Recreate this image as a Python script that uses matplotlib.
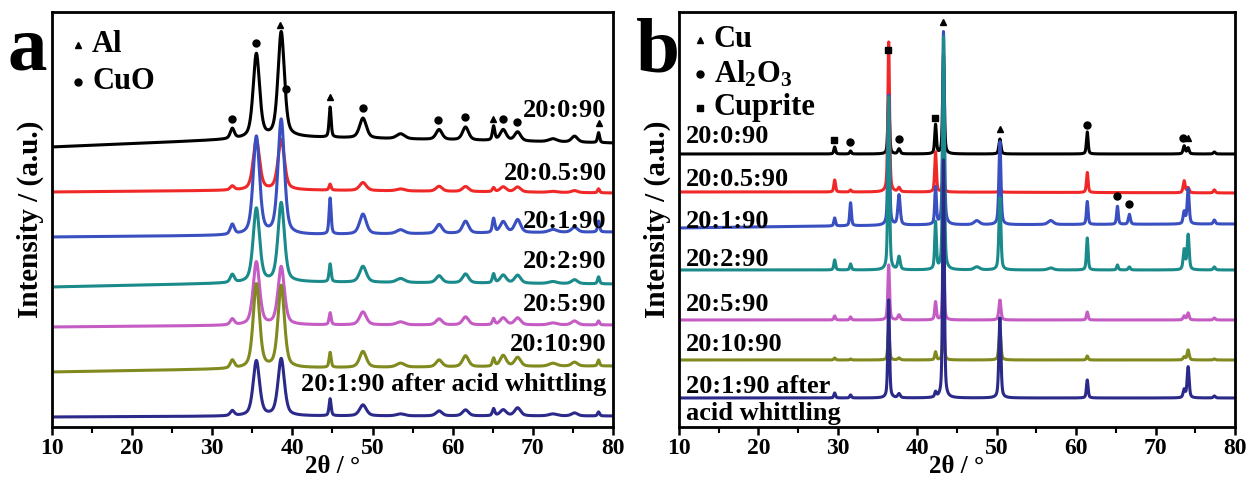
import numpy as np
import matplotlib
matplotlib.use('Agg')
import matplotlib.pyplot as plt

plt.rcParams['font.family'] = ['Liberation Serif', 'DejaVu Serif']
plt.rcParams['font.weight'] = 'bold'
plt.rcParams['mathtext.fontset'] = 'custom'
plt.rcParams['mathtext.rm'] = 'Liberation Serif:bold'
plt.rcParams['mathtext.default'] = 'rm'

# ---------------- panel a data ----------------
a_names = ['20:0:90', '20:0.5:90', '20:1:90', '20:2:90', '20:5:90', '20:10:90',
           '20:1:90 after acid whittling']
a_colors = ['#000000', '#f02828', '#3a4fc0', '#1a8a8a', '#c45cc4', '#808a1e', '#2b2a8a']
a_pos = [32.5, 35.5, 38.6, 44.7, 48.8, 53.5, 58.3, 61.6, 65.1, 66.3, 68.1, 72.5, 75.2, 78.2]
a_wid = [0.6, 0.95, 0.95, 0.3, 1.0, 1.2, 0.9, 0.9, 0.35, 0.9, 0.9, 1.2, 0.9, 0.3]
# baseline levels at 2θ = 10, 40, 80
a_base_x = [10, 40, 80]
a_base = [(280, 290, 284), (235, 237, 234), (190, 192, 195), (140, 145, 143),
          (100, 102, 102), (55, 59, 61), (10, 11, 11)]
a_hgt = [
    [10, 84, 105, 30, 20, 5, 10, 13, 14, 11, 9, 3, 6, 10],
    [4, 50, 50, 6, 8, 2, 5, 5, 4, 5, 5, 1, 2, 4],
    [10, 98, 115, 36, 20, 4, 9, 12, 14, 11, 13, 3, 5, 11],
    [8, 74, 79, 18, 16, 4, 7, 9, 9, 8, 8, 2, 4, 7],
    [6, 63, 58, 12, 13, 3, 6, 8, 6, 7, 7, 2, 4, 4],
    [8, 84, 82, 15, 16, 4, 7, 11, 8, 11, 9, 3, 4, 6],
    [5, 55, 57, 17, 11, 2, 5, 6, 7, 6, 8, 2, 3, 4],
]
a_label_y = [316, 253, 205, 165, 122, 82, 42]
# phase markers: (symbol, 2theta, reference series)
a_marks = [('o', 32.4, 0), ('o', 35.5, 0), ('^', 38.5, 0), ('o', 39.2, 0),
           ('^', 44.7, 0), ('o', 48.8, 0), ('o', 58.2, 0), ('o', 61.5, 0),
           ('^', 65.0, 0), ('o', 66.3, 0), ('o', 68.0, 0), ('^', 78.2, 0)]
a_legend = [('^', 'Al'), ('o', 'CuO')]

# ---------------- panel b data ----------------
b_names = ['20:0:90', '20:0.5:90', '20:1:90', '20:2:90', '20:5:90', '20:10:90',
           '20:1:90 after\nacid whittling']
b_colors = a_colors
b_pos = [29.6, 31.6, 36.4, 37.7, 42.3, 43.3, 47.5, 50.4, 56.8, 61.4, 65.2, 66.7, 73.6, 74.1, 77.4]
b_wid = [0.25, 0.25, 0.25, 0.35, 0.25, 0.25, 0.8, 0.3, 0.8, 0.25, 0.25, 0.3, 0.3, 0.3, 0.3]
b_base_x = [10, 40, 80]
b_base = [(273, 273, 273), (235, 235, 234), (199, 202, 203), (157, 157, 157),
          (107, 107, 107), (67, 67, 67), (29, 29, 29)]
b_hgt = [
    [7, 3, 55, 5, 29, 100, 0, 15, 0, 22, 0, 0, 8, 6, 2],
    [12, 2, 150, 4, 40, 20, 0, 5, 0, 20, 0, 0, 12, 5, 3],
    [8, 23, 130, 30, 37, 193, 4, 83, 4, 23, 18, 10, 12, 35, 4],
    [10, 6, 173, 13, 47, 233, 3, 72, 2, 32, 5, 3, 20, 35, 3],
    [4, 3, 55, 5, 18, 60, 0, 20, 0, 8, 0, 0, 4, 7, 2],
    [2, 1, 30, 2, 8, 40, 0, 30, 0, 4, 0, 0, 3, 10, 1],
    [5, 3, 98, 4, 5, 238, 0, 80, 0, 18, 0, 0, 8, 31, 2],
]
b_label_y = [290, 247, 205, 167, 122, 82, 27]
b_marks = [('s', 29.5, 0), ('o', 31.5, 0), ('s', 36.35, 1), ('o', 37.7, 0),
           ('s', 42.25, 0), ('^', 43.3, 2), ('^', 50.4, 0), ('o', 61.35, 0),
           ('o', 73.5, 0), ('^', 74.1, 0), ('o', 65.2, 2), ('o', 66.7, 2)]
b_legend = [('^', 'Cu'), ('o', 'Al$_2$O$_3$'), ('s', 'Cuprite')]

x = np.linspace(10, 80, 7001)


def pattern(pos, wid, hgt, base_x, base):
    y = np.interp(x, base_x, list(base))
    for p, w, h in zip(pos, wid, hgt):
        d = (x - p) / (w / 2)
        y = y + h * (0.5 / (1 + d ** 2) + 0.5 * np.exp(-np.log(2) * d ** 2))
    return y


def panel(ax, names, colors, pos, wid, hgt, base_x, base, marks, label_y, right_labels):
    curves = []
    for i in range(len(names)):
        y = pattern(pos, wid, hgt[i], base_x, base[i])
        curves.append(y)
        ax.plot(x, y, color=colors[i], lw=2.2)
    for sym, p, ref in marks:
        yv = curves[ref][np.argmin(np.abs(x - p))]
        ax.plot(p, yv + 10, marker=sym, color='k', ms=5, ls='none')
    for i, n in enumerate(names):
        if right_labels:
            ax.text(79.2, label_y[i], n, ha='right', va='center', fontsize=19, fontweight='bold')
        else:
            ax.text(10.9, label_y[i], n, ha='left', va='center', fontsize=19,
                    fontweight='bold', linespacing=1.25)
    ax.set_xlim(10, 80)
    ax.set_ylim(0, 415)
    ax.set_yticks([])
    ax.set_xticks(np.arange(10, 81, 10))
    ax.set_xticks(np.arange(15, 80, 10), minor=True)
    ax.tick_params(axis='x', which='major', direction='out', length=6, width=1.8,
                   labelsize=17, pad=2)
    ax.tick_params(axis='x', which='minor', direction='out', length=4, width=1.5)
    for s in ax.spines.values():
        s.set_linewidth(2)
    ax.set_xlabel('2θ / °', fontsize=18, fontweight='bold', labelpad=-3)
    ax.set_ylabel('Intensity / (a.u.)', fontsize=21, fontweight='bold', labelpad=6)
    return curves


fig = plt.figure(figsize=(12.5, 4.79), dpi=100)
axa = fig.add_axes([0.0416, 0.1086, 0.4488, 0.8664])
axb = fig.add_axes([0.5432, 0.1086, 0.4448, 0.8664])

panel(axa, a_names, a_colors, a_pos, a_wid, a_hgt, a_base_x, a_base, a_marks, a_label_y, True)
panel(axb, b_names, b_colors, b_pos, b_wid, b_hgt, b_base_x, b_base, b_marks, b_label_y, False)

# legends
for ax, items, lx, ly0, dy in [(axa, a_legend, 13.2, 382, 37), (axb, b_legend, 12.6, 387, 34)]:
    for k, (sym, name) in enumerate(items):
        ax.plot(lx, ly0 - k * dy, marker=sym, color='k', ms=5, ls='none')
        ax.text(lx + 1.8, ly0 - k * dy, name, ha='left', va='center', fontsize=22,
                fontweight='bold')

fig.text(0.006, 0.855, 'a', fontsize=57, fontweight='bold')
fig.text(0.509, 0.85, 'b', fontsize=57, fontweight='bold')

fig.savefig('out.png', dpi=100)
